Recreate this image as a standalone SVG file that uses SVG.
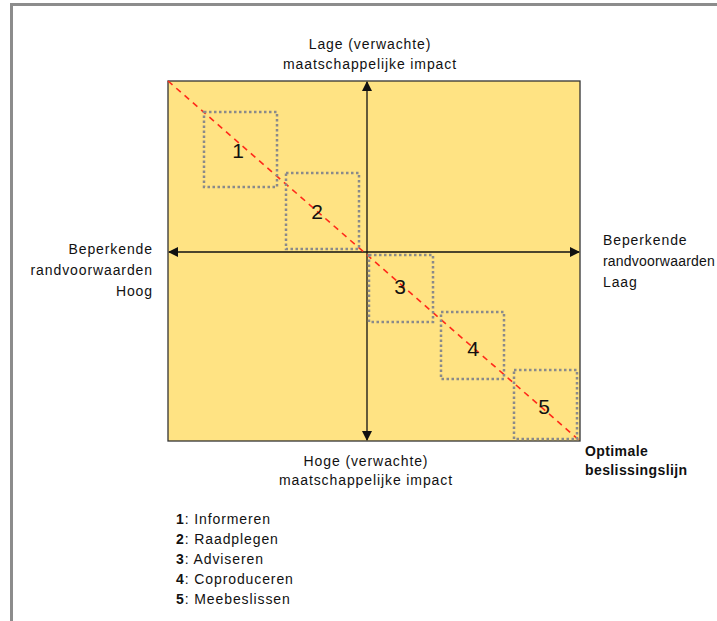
<svg xmlns="http://www.w3.org/2000/svg" width="717" height="621" viewBox="0 0 717 621">
  <style>
    .lbl { font-family: "Liberation Sans", Arial, sans-serif; font-size: 14px; letter-spacing: 0.9px; fill: #111; }
    .bold { font-weight: bold; letter-spacing: 0.4px; }
    .num { font-family: "Liberation Sans", Arial, sans-serif; font-size: 21px; fill: #111; text-anchor: middle; }
    .zone { fill: none; stroke: #8a8a8a; stroke-width: 2.5; stroke-dasharray: 2.5 2.5; }
    .axis { stroke: #111; stroke-width: 1.3; fill: none; }
  </style>
  <defs>
    <marker id="arrow" viewBox="0 0 10 10" refX="9" refY="5" markerWidth="10" markerHeight="10" markerUnits="userSpaceOnUse" orient="auto">
      <path d="M0,0 L10,5 L0,10 z" fill="#111"/>
    </marker>
  </defs>

  <rect width="717" height="621" fill="#ffffff"/>
  <!-- outer frame (left and top edges) -->
  <path d="M11.5,621 V4.5 H717" fill="none" stroke="#8c8c8c" stroke-width="3"/>

  <!-- quadrant field -->
  <g id="field">
    <rect x="168" y="81" width="412" height="360" fill="#ffe383" stroke="#333" stroke-width="1.3"/>
  </g>

  <!-- axes and decision line -->
  <g id="connectors">
    <line class="axis" x1="367" y1="252" x2="367" y2="82" marker-end="url(#arrow)"/>
    <line class="axis" x1="367" y1="252" x2="367" y2="440" marker-end="url(#arrow)"/>
    <line class="axis" x1="367" y1="252" x2="169" y2="252" marker-end="url(#arrow)"/>
    <line class="axis" x1="367" y1="252" x2="579" y2="252" marker-end="url(#arrow)"/>
    <line x1="168" y1="81" x2="580" y2="441" stroke="#ff2a1a" stroke-width="1.6" stroke-dasharray="6 5"/>
  </g>

  <!-- participation zones -->
  <g id="zone1">
    <rect class="zone" x="204" y="112" width="73" height="75"/>
    <text class="num" x="238" y="158">1</text>
  </g>
  <g id="zone2">
    <rect class="zone" x="286" y="173" width="73" height="76"/>
    <text class="num" x="317" y="219">2</text>
  </g>
  <g id="zone3">
    <rect class="zone" x="369" y="255" width="64" height="67"/>
    <text class="num" x="400" y="294">3</text>
  </g>
  <g id="zone4">
    <rect class="zone" x="441" y="312" width="63" height="67"/>
    <text class="num" x="473" y="356">4</text>
  </g>
  <g id="zone5">
    <rect class="zone" x="514" y="370" width="63" height="69"/>
    <text class="num" x="544" y="414">5</text>
  </g>

  <!-- axis labels -->
  <g id="label-top">
    <text class="lbl" x="370" y="49" text-anchor="middle">Lage (verwachte)</text>
    <text class="lbl" x="370" y="69" text-anchor="middle">maatschappelijke impact</text>
  </g>
  <g id="label-bottom">
    <text class="lbl" x="366" y="466" text-anchor="middle">Hoge (verwachte)</text>
    <text class="lbl" x="366" y="485" text-anchor="middle">maatschappelijke impact</text>
  </g>
  <g id="label-left">
    <text class="lbl" x="153" y="254" text-anchor="end">Beperkende</text>
    <text class="lbl" x="153" y="275" text-anchor="end">randvoorwaarden</text>
    <text class="lbl" x="153" y="296" text-anchor="end">Hoog</text>
  </g>
  <g id="label-right">
    <text class="lbl" x="603" y="245">Beperkende</text>
    <text class="lbl" x="603" y="266" style="letter-spacing:0.2px">randvoorwaarden</text>
    <text class="lbl" x="603" y="287">Laag</text>
  </g>
  <g id="label-line">
    <text class="lbl bold" x="585" y="456">Optimale</text>
    <text class="lbl bold" x="585" y="475">beslissingslijn</text>
  </g>

  <!-- legend -->
  <g id="legend">
    <text class="lbl" x="176" y="524"><tspan font-weight="bold">1</tspan>: Informeren</text>
    <text class="lbl" x="176" y="544"><tspan font-weight="bold">2</tspan>: Raadplegen</text>
    <text class="lbl" x="176" y="564"><tspan font-weight="bold">3</tspan>: Adviseren</text>
    <text class="lbl" x="176" y="584"><tspan font-weight="bold">4</tspan>: Coproduceren</text>
    <text class="lbl" x="176" y="604"><tspan font-weight="bold">5</tspan>: Meebeslissen</text>
  </g>
</svg>
